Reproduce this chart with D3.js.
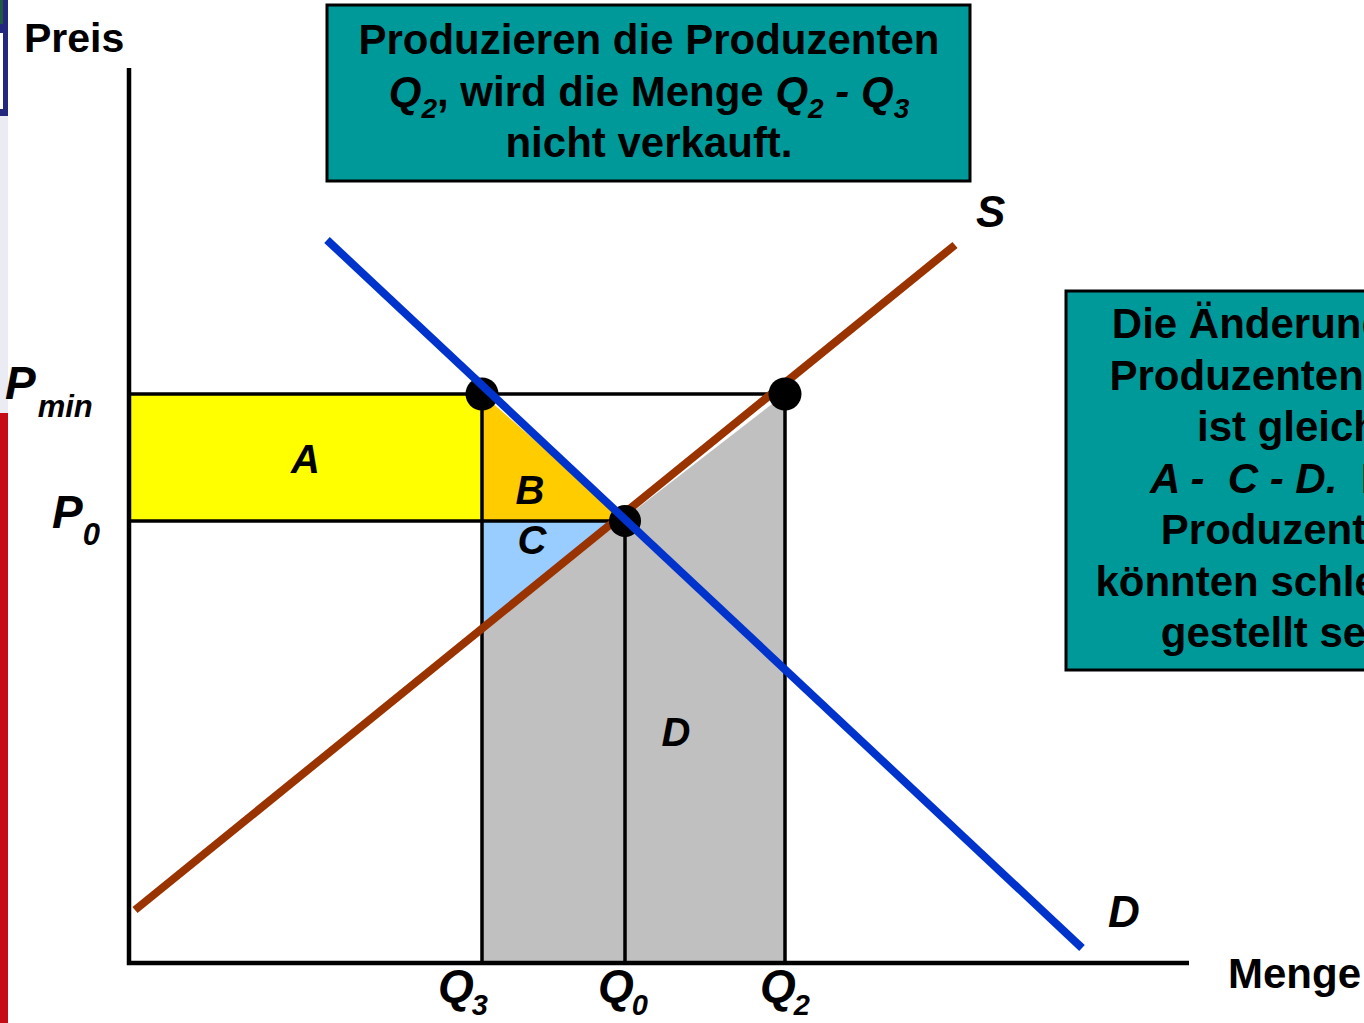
<!DOCTYPE html>
<html>
<head>
<meta charset="utf-8">
<script src="https://cdn.jsdelivr.net/npm/d3@7"></script>
<style>
  body { margin: 0; background: #fff; }
  text { font-family: "Liberation Sans", Arial, sans-serif; font-weight: bold; white-space: pre; }
</style>
</head>
<body>
<script>
// quantities Q3, Q0, Q2 and prices Pmin, P0
var qNames = ["3", "0", "2"];
var qValues = [35.3, 49.6, 65.6];
var pNames = ["min", "0"];
var pValues = [56.9, 44.2];

// end points of the two curves [menge, preis]
var supply = [[0.6, 5.3], [82.6, 71.8]];
var demand = [[19.8, 72.3], [95.3, 1.5]];

var areaNames = ["A", "B", "C", "D"];

// text boxes: [text, style] with i = italic, s = italic subscript
var topNote = [
  [["Produzieren die Produzenten", ""]],
  [["Q", "i"], ["2", "s"], [", wird die Menge ", ""], ["Q", "i"], ["2", "s"], [" - ", "i"], ["Q", "i"], ["3", "s"]],
  [["nicht verkauft.", ""]]
];
var sideNote = [
  [["Die Änderung der", ""]],
  [["Produzentenrente", ""]],
  [["ist gleich", ""]],
  [["A -  C - D.", "i"], ["  Die", ""]],
  [["Produzenten", ""]],
  [["könnten schlechter", ""]],
  [["gestellt sein.", ""]]
];

var W = 1364, H = 1023;
var svg = d3.select("body").append("svg")
    .attr("width", W)
    .attr("height", H);

svg.append("rect").attr("width", W).attr("height", H).attr("fill", "#fff");

// slide edge strip on the left
var strip = svg.append("g");
strip.append("rect").attr("x", 0).attr("y", 0).attr("width", 8).attr("height", 116).attr("fill", "#23287e");
strip.append("rect").attr("x", 0).attr("y", 0).attr("width", 3).attr("height", 24).attr("fill", "#1d5a3c");
strip.append("rect").attr("x", 0).attr("y", 33).attr("width", 3).attr("height", 76).attr("fill", "#fff");
strip.append("rect").attr("x", 0).attr("y", 116).attr("width", 8).attr("height", 297).attr("fill", "#ebebf3");
strip.append("rect").attr("x", 0).attr("y", 413).attr("width", 8).attr("height", 610).attr("fill", "#c60a16");

var x = d3.scaleLinear().domain([0, 106]).range([129, 1189]);
var y = d3.scaleLinear().domain([0, 90]).range([963, 63]);

var sAt = d3.scaleLinear().domain([supply[0][0], supply[1][0]]).range([supply[0][1], supply[1][1]]);
var dAt = d3.scaleLinear().domain([demand[0][0], demand[1][0]]).range([demand[0][1], demand[1][1]]);

var Q3 = qValues[0], Q0 = qValues[1], Q2 = qValues[2];
var Pmin = pValues[0], P0 = pValues[1];

var line = d3.line()
    .x(function(d) { return x(d[0]); })
    .y(function(d) { return y(d[1]); });

// shaded areas
var areas = [
  {pts: [[0, Pmin], [Q3, Pmin], [Q3, P0], [0, P0]], fill: "#ffff00"},
  {pts: [[Q3, Pmin], [dAt.invert(P0), P0], [Q3, P0]], fill: "#ffcc00"},
  {pts: [[Q3, P0], [sAt.invert(P0), P0], [Q3, sAt(Q3)]], fill: "#99ccff"},
  {pts: [[Q3, 0], [Q3, sAt(Q3)], [Q2, Pmin], [Q2, 0]], fill: "#c0c0c0"}
];
svg.append("g").selectAll("path")
    .data(areas)
    .join("path")
    .attr("d", function(d) { return line(d.pts) + "Z"; })
    .attr("fill", function(d) { return d.fill; });

// guide lines
var guides = [
  [[0, Pmin], [Q2, Pmin]],
  [[0, P0], [sAt.invert(P0), P0]],
  [[Q3, Pmin], [Q3, 0]],
  [[Q0, P0], [Q0, 0]],
  [[Q2, Pmin], [Q2, 0]]
];
svg.append("g").selectAll("path")
    .data(guides)
    .join("path")
    .attr("d", line)
    .attr("fill", "none")
    .attr("stroke", "#000")
    .attr("stroke-width", 3.5);

// axes
svg.append("path")
    .attr("d", line([[0, 89.5], [0, 0], [106, 0]]))
    .attr("fill", "none")
    .attr("stroke", "#000")
    .attr("stroke-width", 4.5)
    .attr("stroke-linejoin", "miter");

// supply curve
svg.append("path")
    .datum(supply)
    .attr("d", line)
    .attr("stroke", "#993300")
    .attr("stroke-width", 8);

// dots at Pmin
svg.append("g").selectAll("circle")
    .data([[Q3, Pmin], [Q2, Pmin]])
    .join("circle")
    .attr("cx", function(d) { return x(d[0]); })
    .attr("cy", function(d) { return y(d[1]); })
    .attr("r", 16.5)
    .attr("fill", "#000");

// equilibrium dot below demand line
svg.append("circle")
    .attr("cx", x(Q0))
    .attr("cy", y(P0))
    .attr("r", 16)
    .attr("fill", "#000");

// demand curve
svg.append("path")
    .datum(demand)
    .attr("d", line)
    .attr("stroke", "#0033cc")
    .attr("stroke-width", 8);

// area labels
var areaPos = [
  [Q3 / 2, (Pmin + P0) / 2 - 1.5],
  [Q3 + 4.8, P0 + 1.7],
  [Q3 + 5, P0 - 3.3],
  [(Q0 + Q2) / 2 - 2.9, 21.7]
];
svg.append("g").selectAll("text")
    .data(areaNames)
    .join("text")
    .attr("x", function(d, i) { return x(areaPos[i][0]); })
    .attr("y", function(d, i) { return y(areaPos[i][1]); })
    .attr("text-anchor", "middle")
    .attr("font-size", 40)
    .attr("font-style", "italic")
    .text(function(d) { return d; });

function subLabel(px, py, main, sub, big, small, sdx, sdy) {
  var t = svg.append("text")
      .attr("x", px).attr("y", py)
      .attr("font-style", "italic");
  t.append("tspan").attr("font-size", big).text(main);
  t.append("tspan").attr("font-size", small).attr("dx", sdx).attr("dy", sdy).text(sub);
}

// Q labels under the axis
var qDx = [-44, -27, -25];
qNames.forEach(function(n, i) {
  subLabel(x(qValues[i]) + qDx[i], 1002, "Q", n, 46, 29, -2, 13);
});

// P labels left of the axis
subLabel(5, 399, "P", pNames[0], 46, 31, 2, 18);
subLabel(52, 528, "P", pNames[1], 46, 31, 0, 17);

svg.append("text").attr("x", 24).attr("y", 52).attr("font-size", 41).text("Preis");
svg.append("text").attr("x", 1228).attr("y", 988).attr("font-size", 42).text("Menge");
svg.append("text").attr("x", 976).attr("y", 227).attr("font-size", 44)
    .attr("font-style", "italic").text("S");
svg.append("text").attr("x", 1108).attr("y", 927).attr("font-size", 44)
    .attr("font-style", "italic").text("D");

function noteBox(bx, by, bw, bh, cx, firstBase, gap, lines) {
  var g = svg.append("g");
  g.append("rect")
      .attr("x", bx).attr("y", by)
      .attr("width", bw).attr("height", bh)
      .attr("fill", "#009999")
      .attr("stroke", "#000")
      .attr("stroke-width", 3);
  lines.forEach(function(segs, li) {
    var t = g.append("text")
        .attr("x", cx)
        .attr("y", firstBase + li * gap)
        .attr("text-anchor", "middle")
        .attr("font-size", 42);
    var shift = 0;
    segs.forEach(function(s) {
      var ts = t.append("tspan").text(s[0]);
      var want = s[1] === "s" ? 12 : 0;
      if (want !== shift) { ts.attr("dy", want - shift); shift = want; }
      if (s[1] === "i" || s[1] === "s") ts.attr("font-style", "italic");
      if (s[1] === "s") ts.attr("font-size", 28);
    });
  });
}

noteBox(327, 5, 643, 176, 649, 54, 51.5, topNote);
noteBox(1066, 291, 450, 379, 1288, 338, 51.5, sideNote);
</script>
</body>
</html>
